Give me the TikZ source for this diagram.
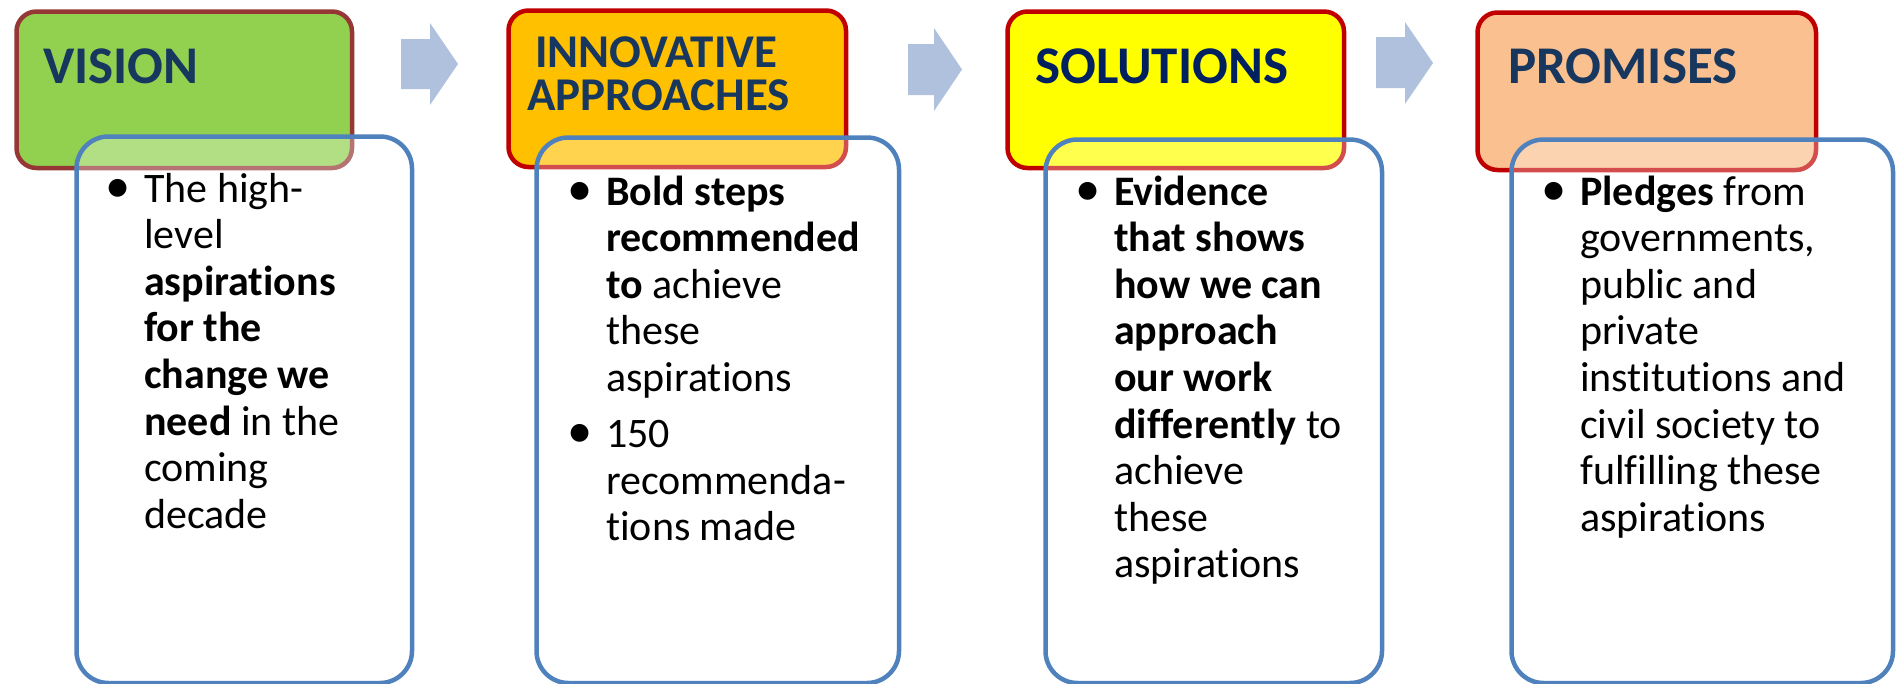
\documentclass[tikz,border=0pt]{standalone}
\usepackage{fontspec}
\setmainfont{Carlito}[Ligatures=NoCommon]
\definecolor{navy}{HTML}{17375E}
\definecolor{navydark}{HTML}{002060}
\definecolor{vgreen}{HTML}{92D050}
\definecolor{vbrown}{HTML}{953735}
\definecolor{iorange}{HTML}{FFC000}
\definecolor{sred}{HTML}{C00000}
\definecolor{syellow}{HTML}{FFFF00}
\definecolor{ppeach}{HTML}{FAC090}
\definecolor{bblue}{HTML}{4F81BD}
\definecolor{arrowc}{HTML}{B0C1DD}
\newcommand{\mybul}{\llap{\scalebox{1.2}{\textbullet}\hspace{14pt}}}
\newenvironment{lines}{\begin{tabular}[t]{@{}l@{}}}{\end{tabular}}
\begin{document}
\begin{tikzpicture}[x=1pt,y=-1pt,
  titlebox/.style={draw, line width=4.5pt, rounded corners=20pt, inner sep=0pt, anchor=north west},
  bodybox/.style={draw=bblue, line width=4.5pt, rounded corners=32pt, inner sep=0pt, anchor=north west, fill=white, fill opacity=0.3},
  titletext/.style={anchor=base west, inner sep=0pt, font=\fontsize{53}{60}\selectfont\bfseries, text=navy},
  bodytext/.style={anchor=base west, inner sep=0pt, font=\fontsize{42}{46.6}\selectfont, text=black},
  blockarrow/.style={fill=arrowc}]
\useasboundingbox (0,0) rectangle (1896,683);

% title boxes
\node[titlebox, draw=vbrown, fill=vgreen, minimum width=335.5pt, minimum height=156.5pt] (t1) at (14.25,9.25) {};
\node[titlebox, draw=sred, fill=iorange, minimum width=337.5pt, minimum height=156.5pt] (t2) at (506.25,8.25) {};
\node[titlebox, draw=sred, fill=syellow, minimum width=336.5pt, minimum height=156.5pt] (t3) at (1005.25,9.25) {};
\node[titlebox, draw=sred, fill=ppeach, minimum width=338.5pt, minimum height=157.5pt] (t4) at (1475.25,10.25) {};

% titles
\node[titletext] (h1) at (43,83) {VISION};
\node[titletext, font=\fontsize{47}{43}\selectfont\bfseries] (h2) at (527,67) {\begin{lines}\hspace*{8pt}INNOVATIVE\\APPROACHES\end{lines}};
\node[titletext, text=navydark] (h3) at (1035,83) {SOLUTIONS};
\node[titletext] (h4) at (1508,83) {PROMISES};

% body boxes
\node[bodybox, minimum width=335.5pt, minimum height=546.5pt] (b1) at (74.25,134.25) {};
\node[bodybox, minimum width=362.5pt, minimum height=545.5pt] (b2) at (534.25,135.25) {};
\node[bodybox, minimum width=336.5pt, minimum height=543.5pt] (b3) at (1043.25,137.25) {};
\node[bodybox, minimum width=381.5pt, minimum height=543.5pt] (b4) at (1509.25,137.25) {};

% body texts
\node[bodytext] (x1) at (144,202) {\begin{lines}\mybul The high-\\level\\\textbf{aspirations}\\\textbf{for the}\\\textbf{change we}\\\textbf{need} in the\\coming\\decade\end{lines}};
\node[bodytext] (x2) at (606,205) {\begin{lines}\mybul\textbf{Bold steps}\\\textbf{recommended}\\\textbf{to} achieve\\these\\aspirations\\[9.5pt]\mybul 150\\recommenda-\\tions made\end{lines}};
\node[bodytext] (x3) at (1114,205) {\begin{lines}\mybul\textbf{Evidence}\\\textbf{that shows}\\\textbf{how we can}\\\textbf{approach}\\\textbf{our work}\\\textbf{differently} to\\achieve\\these\\aspirations\end{lines}};
\node[bodytext] (x4) at (1580,205) {\begin{lines}\mybul\textbf{Pledges} from\\governments,\\public and\\private\\institutions and\\civil society to\\fulfilling these\\aspirations\end{lines}};

% block arrows
\fill[blockarrow] (401,39) -- (430,39) -- (430,23) -- (458,64) -- (430,105) -- (430,89) -- (401,89) -- cycle;
\fill[blockarrow] (908,44) -- (934,44) -- (934,28) -- (962,69.5) -- (934,111) -- (934,95) -- (908,95) -- cycle;
\fill[blockarrow] (1376,37) -- (1405,37) -- (1405,22) -- (1433,63) -- (1405,104) -- (1405,88) -- (1376,88) -- cycle;
\end{tikzpicture}
\end{document}
